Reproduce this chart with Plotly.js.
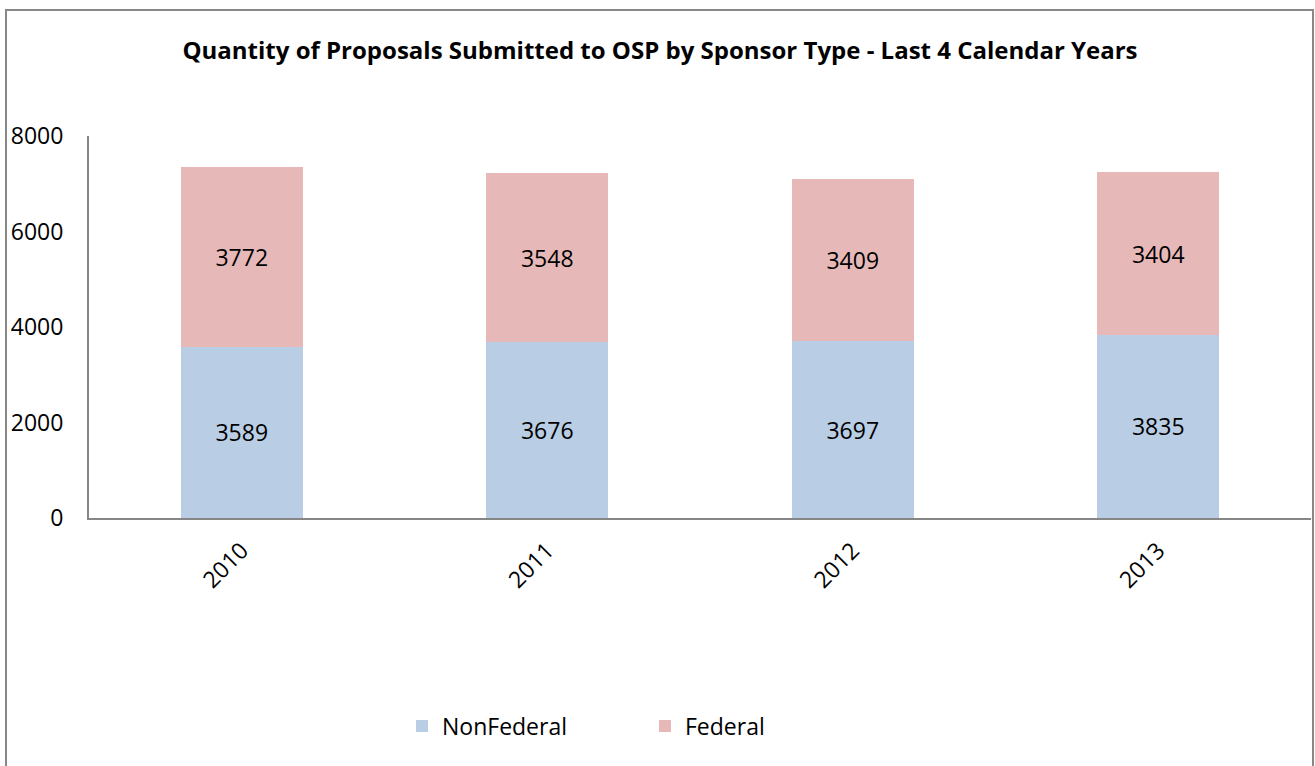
<!DOCTYPE html>
<html>
<head>
<meta charset="utf-8">
<script src="https://cdn.plot.ly/plotly-3.0.1.min.js"></script>
<style>
html,body{margin:0;padding:0;background:#fff;}
#chart{width:1315px;height:766px;}
</style>
</head>
<body>
<div id="chart"></div>
<script>
var years = ['2010', '2011', '2012', '2013'];
var nonFederal = [3589, 3676, 3697, 3835];
var federal = [3772, 3548, 3409, 3404];
var seriesNames = ['NonFederal', 'Federal'];
var yTicks = [0, 2000, 4000, 6000, 8000];

var FONT = '"Open Sans", "Liberation Sans", sans-serif';
var W = 1315, H = 766;
var L = 89, R = 4, T = 136, B = 248;
var pw = W - L - R, ph = H - T - B;
function px2x(x){ return (x - L) / pw; }
function py2y(y){ return (H - B - y) / ph; }

var traces = [
  {
    type: 'bar', name: seriesNames[0], x: years, y: nonFederal,
    marker: {color: '#B9CDE5', line: {width: 0}},
    text: nonFederal.map(String), textposition: 'inside', insidetextanchor: 'middle',
    textfont: {family: FONT, size: 23, color: '#000'}, hoverinfo: 'x+y+name'
  },
  {
    type: 'bar', name: seriesNames[1], x: years, y: federal,
    marker: {color: '#E6B9B8', line: {width: 0}},
    text: federal.map(String), textposition: 'inside', insidetextanchor: 'middle',
    textfont: {family: FONT, size: 23, color: '#000'}, hoverinfo: 'x+y+name'
  }
];

var layout = {
  width: W, height: H,
  margin: {l: L, r: R, t: T, b: B, pad: 0},
  paper_bgcolor: '#fff', plot_bgcolor: '#fff',
  barmode: 'stack', bargap: 0.6,
  font: {family: FONT, size: 23, color: '#000'},
  title: {
    text: '<b>Quantity of Proposals Submitted to OSP by Sponsor Type - Last 4 Calendar Years</b>',
    font: {family: FONT, size: 24, color: '#000'},
    x: 660 / W, xanchor: 'center', y: 1 - 51 / H, yanchor: 'middle'
  },
  xaxis: {
    type: 'category', showgrid: false, zeroline: false,
    showline: true, linecolor: '#868686', linewidth: 2,
    ticks: '', tickangle: -45, ticklabelstandoff: 8,
    tickfont: {family: FONT, size: 23, color: '#000'}
  },
  yaxis: {
    range: [0, 8000], tickvals: yTicks, ticktext: yTicks.map(String),
    showgrid: false, zeroline: false,
    showline: true, linecolor: '#868686', linewidth: 2,
    ticks: '', ticklabelstandoff: 19,
    tickfont: {family: FONT, size: 23, color: '#000'}
  },
  legend: {
    orientation: 'h', x: px2x(402), xanchor: 'left', y: py2y(726), yanchor: 'middle',
    font: {family: FONT, size: 23, color: '#000'},
    entrywidth: 198, traceorder: 'normal', bgcolor: 'rgba(0,0,0,0)'
  },
  shapes: [{
    type: 'rect', xref: 'paper', yref: 'paper',
    x0: px2x(6), x1: px2x(1313), y0: py2y(800), y1: py2y(10),
    line: {color: '#888888', width: 2}, fillcolor: 'rgba(0,0,0,0)', layer: 'below'
  }],
  showlegend: true
};

Plotly.newPlot('chart', traces, layout, {displayModeBar: false, staticPlot: true});
</script>
</body>
</html>
